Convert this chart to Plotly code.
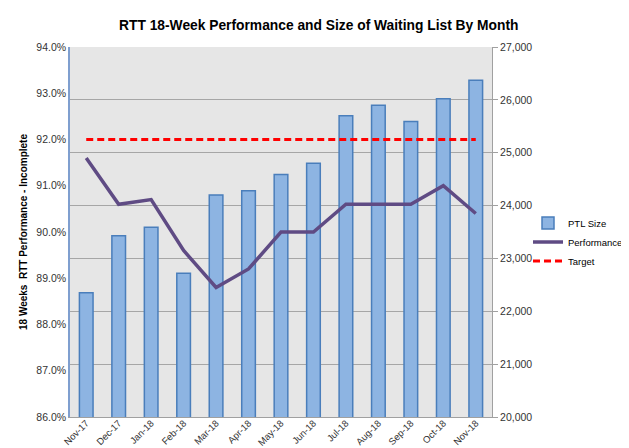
import plotly.graph_objects as go

months = ["Nov-17", "Dec-17", "Jan-18", "Feb-18", "Mar-18", "Apr-18", "May-18",
          "Jun-18", "Jul-18", "Aug-18", "Sep-18", "Oct-18", "Nov-18"]
ptl_size = [22350, 23430, 23590, 22720, 24200, 24280, 24590, 24800,
            25700, 25900, 25590, 26020, 26370]
performance = [0.916, 0.906, 0.907, 0.896, 0.888, 0.892, 0.900, 0.900,
               0.906, 0.906, 0.906, 0.910, 0.904]
target = [0.92] * 13

right_ticks = [20000, 21000, 22000, 23000, 24000, 25000, 26000, 27000]
left_ticks = [0.86, 0.87, 0.88, 0.89, 0.90, 0.91, 0.92, 0.93, 0.94]

FONT = "Liberation Sans, Arial, sans-serif"

fig = go.Figure()
fig.add_trace(go.Bar(
    x=months, y=ptl_size, name="PTL Size", yaxis="y",
    marker=dict(color="#8db4e2", line=dict(color="#4a7ebb", width=1.5)),
))
fig.add_trace(go.Scatter(
    x=months, y=performance, name="Performance", yaxis="y2", mode="lines",
    line=dict(color="#5f4b84", width=3.5),
))
fig.add_trace(go.Scatter(
    x=months, y=target, name="Target", yaxis="y2", mode="lines",
    line=dict(color="#ff0000", width=3, dash="7px,4px"),
))

fig.update_layout(
    width=629, height=448,
    margin=dict(l=62, r=145, t=39, b=39, autoexpand=False),
    paper_bgcolor="white",
    plot_bgcolor="#e6e6e6",
    font=dict(family=FONT, size=10, color="#333333"),
    bargap=0.58,
    title=dict(
        text="<b>RTT 18-Week Performance and Size of Waiting List By Month</b>",
        x=0.494, xanchor="center", y=0.962, yanchor="middle",
        yref="container", xref="container",
        font=dict(family=FONT, size=13.8, color="#000000"),
    ),
    xaxis=dict(
        type="category", tickangle=-45, showgrid=False,
        showline=True, linecolor="#a0a0a0", linewidth=1,
        ticks="", tickfont=dict(size=9.5, color="#333333"),
        ticklabelstandoff=-4,
    ),
    yaxis=dict(
        side="right", range=[20000, 27000], tickvals=right_ticks,
        tickformat=",d", showgrid=True, gridcolor="#a6a6a6", gridwidth=1,
        showline=True, linecolor="#a0a0a0", linewidth=1,
        ticks="outside", ticklen=5, tickcolor="#a0a0a0",
        tickfont=dict(size=10.5, color="#333333"), zeroline=False,
    ),
    yaxis2=dict(
        side="left", overlaying="y", range=[0.86, 0.94], tickvals=left_ticks,
        tickformat=".1%", showgrid=False, zeroline=False,
        showline=True, linecolor="#7f9fcf", linewidth=1.5,
        ticks="", tickfont=dict(size=10.5, color="#333333"),
    ),
    legend=dict(
        x=520 / 629, xref="container", y=1 - 234 / 448, yref="container",
        yanchor="middle", xanchor="left",
        bgcolor="rgba(0,0,0,0)", font=dict(size=9.5, color="#000000"),
        itemwidth=30, tracegroupgap=0, traceorder="normal",
    ),
    showlegend=True,
    annotations=[dict(
        text="<b>18 Weeks  RTT Performance - Incomplete</b>",
        xref="paper", yref="paper", x=0, y=0.5, xshift=-47,
        textangle=-90, showarrow=False, xanchor="center", yanchor="middle",
        font=dict(family=FONT, size=10, color="#000000"),
    )],
)

fig.write_html("out.html")
